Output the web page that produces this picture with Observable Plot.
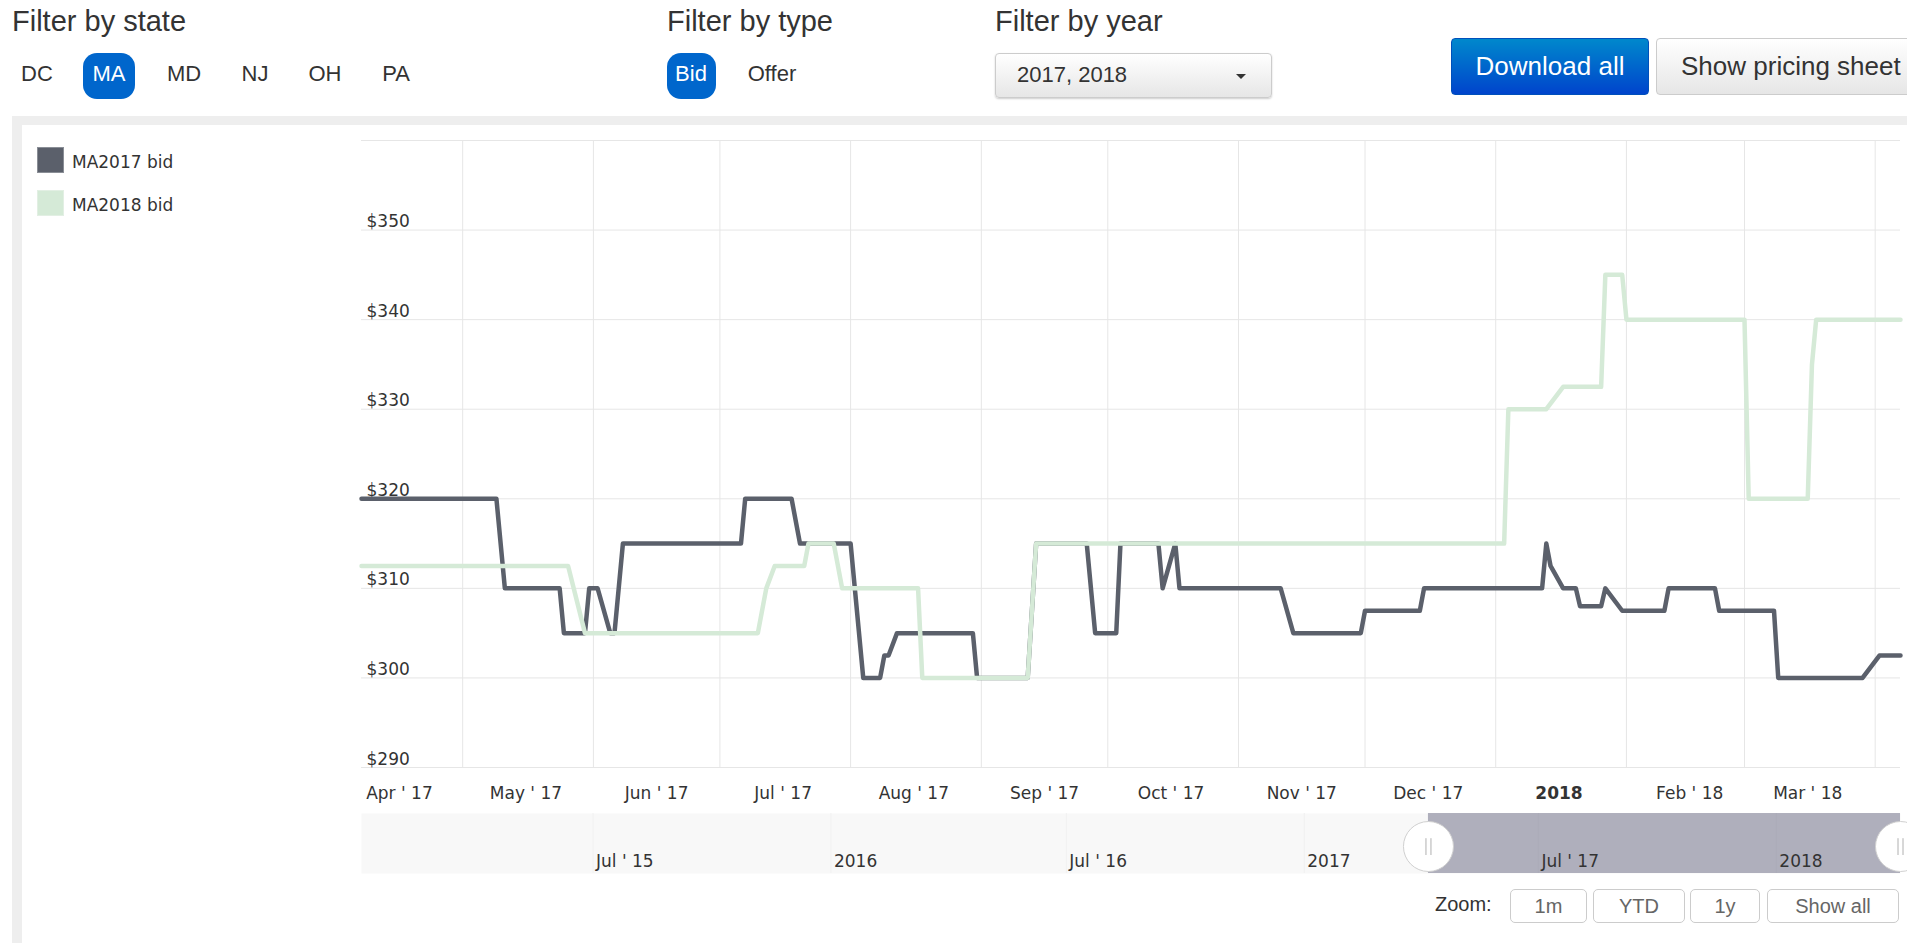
<!DOCTYPE html>
<html>
<head>
<meta charset="utf-8">
<script src="https://cdn.jsdelivr.net/npm/d3@7"></script>
<script src="https://cdn.jsdelivr.net/npm/@observablehq/plot@0.6"></script>
<style>
  html, body { margin: 0; padding: 0; }
  body { width: 1907px; height: 943px; overflow: hidden; background: #fff; position: relative;
         font-family: "Liberation Sans", Arial, sans-serif; color: #333; }
  .abs { position: absolute; white-space: nowrap; }
  .hdr { font-size: 29px; line-height: 29px; top: 7px; }
  .st { font-size: 22px; line-height: 22px; top: 63px; width: 60px; text-align: center; }
  .pill { background: #0066cc; border-radius: 14px; top: 53px; height: 46px; }
  .pilltxt { color: #fff; }
  .panel { left: 12px; top: 116px; right: 0; bottom: 0; background: #eeeeee; }
  .inner { left: 22px; top: 125px; right: 0; bottom: 0; background: #fff; }
  .sw { width: 27px; height: 26px; left: 37px; box-sizing: border-box; }
  .lg { left: 72px; font-family: "DejaVu Sans", Verdana, sans-serif; font-size: 17px; line-height: 17px; color: #333; }
  .zbtn { top: 889px; height: 34px; box-sizing: border-box; border: 1px solid #cccccc; border-radius: 5px;
          background: #fff; color: #666; font-size: 20px; line-height: 32px; text-align: center; }
</style>
</head>
<body>
<div class="abs panel"></div>
<div class="abs inner"></div>

<div class="abs hdr" style="left:12px">Filter by state</div>
<div class="abs hdr" style="left:667px">Filter by type</div>
<div class="abs hdr" style="left:995px">Filter by year</div>

<div id="states"></div>

<div class="abs pill" style="left:667px;width:49px"></div>
<div class="abs st pilltxt" style="left:661px">Bid</div>
<div class="abs st" style="left:742px">Offer</div>

<div class="abs" style="left:995px;top:53px;width:277px;height:45px;box-sizing:border-box;border:1px solid #cccccc;border-radius:4px;background:linear-gradient(#ffffff,#e6e6e6);box-shadow:0 1px 2px rgba(0,0,0,0.2)"></div>
<div class="abs" style="left:1017px;top:64px;font-size:22px;line-height:22px">2017, 2018</div>
<div class="abs" style="left:1236px;top:74px;width:0;height:0;border-left:5px solid transparent;border-right:5px solid transparent;border-top:5px solid #333"></div>

<div class="abs" style="left:1451px;top:38px;width:198px;height:57px;box-sizing:border-box;border:1px solid #0050bb;border-radius:4px;background:linear-gradient(#0088cc,#0044cc);color:#fff;font-size:26px;line-height:55px;text-align:center">Download all</div>
<div class="abs" style="left:1656px;top:38px;width:280px;height:57px;box-sizing:border-box;border:1px solid #cccccc;border-radius:4px;background:linear-gradient(#ffffff,#e6e6e6);color:#333;font-size:26px;line-height:55px;padding-left:24px">Show pricing sheet</div>

<div id="legend"></div>

<div id="main" class="abs" style="left:341px;top:120px"></div>
<div id="nav" class="abs" style="left:341px;top:805px"></div>

<div class="abs" style="left:1435px;top:894px;font-size:20px;line-height:20px;color:#333">Zoom:</div>
<div class="abs zbtn" style="left:1510px;width:77px">1m</div>
<div class="abs zbtn" style="left:1593px;width:92px">YTD</div>
<div class="abs zbtn" style="left:1690px;width:70px">1y</div>
<div class="abs zbtn" style="left:1767px;width:132px">Show all</div>

<script>
// ---------------- data ----------------
const states = ["DC", "MA", "MD", "NJ", "OH", "PA"];
const seriesNames = ["MA2017 bid", "MA2018 bid"];

const dates2017 = [
  "2017-04-07","2017-05-09","2017-05-11","2017-05-24","2017-05-25","2017-05-30","2017-05-31","2017-06-02",
  "2017-06-05","2017-06-06","2017-06-08","2017-07-06","2017-07-07","2017-07-18","2017-07-20","2017-08-01",
  "2017-08-04","2017-08-08","2017-08-09","2017-08-10","2017-08-12","2017-08-30","2017-08-31","2017-09-12",
  "2017-09-14","2017-09-26","2017-09-28","2017-10-03","2017-10-04","2017-10-13","2017-10-14","2017-10-17",
  "2017-10-18","2017-11-11","2017-11-14","2017-11-30","2017-12-01","2017-12-14","2017-12-15","2018-01-12",
  "2018-01-13","2018-01-14","2018-01-17","2018-01-20","2018-01-21","2018-01-26","2018-01-27","2018-01-31",
  "2018-02-10","2018-02-11","2018-02-22","2018-02-23","2018-03-08","2018-03-09","2018-03-29","2018-04-02",
  "2018-04-07"
];
const bid2017 = [
  320, 320, 310, 310, 305, 305, 310, 310,
  305, 305, 315, 315, 320, 320, 315, 315,
  300, 300, 302.5, 302.5, 305, 305, 300, 300,
  315, 315, 305, 305, 315, 315, 310, 315,
  310, 310, 305, 305, 307.5, 307.5, 310, 310,
  315, 312.5, 310, 310, 308, 308, 310, 307.5,
  307.5, 310, 310, 307.5, 307.5, 300, 300, 302.5,
  302.5
];

const dates2018 = [
  "2017-04-07","2017-05-26","2017-05-30","2017-07-10","2017-07-12","2017-07-14","2017-07-21","2017-07-22",
  "2017-07-28","2017-07-30","2017-08-17","2017-08-18","2017-09-12","2017-09-14","2018-01-03","2018-01-04",
  "2018-01-13","2018-01-17","2018-01-26","2018-01-27","2018-01-31","2018-02-01","2018-03-01","2018-03-02",
  "2018-03-16","2018-03-17","2018-03-18","2018-04-07"
];
const bid2018 = [
  312.5, 312.5, 305, 305, 310, 312.5, 312.5, 315,
  315, 310, 310, 300, 300, 315, 315, 330,
  330, 332.5, 332.5, 345, 345, 340, 340, 320,
  320, 335, 340, 340
];

const yTicks = [290, 300, 310, 320, 330, 340, 350];
const yGrid = [290, 300, 310, 320, 330, 340, 350, 360];
const gridMonths = ["2017-05-01","2017-06-01","2017-07-01","2017-08-01","2017-09-01","2017-10-01",
                    "2017-11-01","2017-12-01","2018-01-01","2018-02-01","2018-03-01","2018-04-01"];
const monthTicks = ["2017-04-16","2017-05-16","2017-06-16","2017-07-16","2017-08-16","2017-09-16",
                    "2017-10-16","2017-11-16","2017-12-16","2018-01-16","2018-02-16","2018-03-16"];
const monthLabels = ["Apr ' 17","May ' 17","Jun ' 17","Jul ' 17","Aug ' 17","Sep ' 17",
                     "Oct ' 17","Nov ' 17","Dec ' 17","2018","Feb ' 18","Mar ' 18"];
const boldLabels = ["2018"];
const xDomain = ["2017-04-07", "2018-04-07"];

const navDomain = ["2015-01-03", "2018-04-07"];
const navSelection = ["2017-04-07", "2018-04-07"];
const navTicks = ["2015-07-01","2016-01-01","2016-07-01","2017-01-01","2017-07-01","2018-01-01"];
const navLabels = ["Jul ' 15","2016","Jul ' 16","2017","Jul ' 17","2018"];

// ---------------- build ----------------
const P = s => new Date(s + "T00:00:00Z");
const s2017 = dates2017.map((d, i) => ({date: P(d), value: bid2017[i], series: seriesNames[0]}));
const s2018 = dates2018.map((d, i) => ({date: P(d), value: bid2018[i], series: seriesNames[1]}));
const colors = ["#5b606b", "#d5ead7"];

// header states
const stateCenters = [37, 109, 184, 255, 325, 396];
const stDiv = document.getElementById("states");
states.forEach((s, i) => {
  if (s === "MA") {
    const p = document.createElement("div");
    p.className = "abs pill";
    p.style.left = "83px"; p.style.width = "52px";
    stDiv.appendChild(p);
  }
  const t = document.createElement("div");
  t.className = "abs st" + (s === "MA" ? " pilltxt" : "");
  t.style.left = (stateCenters[i] - 30) + "px";
  t.textContent = s;
  stDiv.appendChild(t);
});

// legend
const lg = document.getElementById("legend");
seriesNames.forEach((n, i) => {
  const sw = document.createElement("div");
  sw.className = "abs sw";
  sw.style.top = (147 + i * 43) + "px";
  sw.style.background = colors[i];
  sw.style.border = "1px solid " + (i === 0 ? "#8a8e96" : "#e2efe3");
  lg.appendChild(sw);
  const t = document.createElement("div");
  t.className = "abs lg";
  t.style.top = (154 + i * 43) + "px";
  t.textContent = n;
  lg.appendChild(t);
});

const labelByTime = new Map(monthTicks.map((d, i) => [+P(d), monthLabels[i]]));
const normalTicks = monthTicks.filter((d, i) => !boldLabels.includes(monthLabels[i])).map(P);
const boldTicks = monthTicks.filter((d, i) => boldLabels.includes(monthLabels[i])).map(P);

const chartStyle = {fontFamily: "'DejaVu Sans', Verdana, sans-serif", fontSize: "17px", color: "#333", background: "transparent", overflow: "visible"};

const main = Plot.plot({
  width: 1566, height: 685,
  marginLeft: 20, marginRight: 7, marginTop: 20, marginBottom: 38,
  style: chartStyle,
  x: {type: "utc", domain: xDomain.map(P)},
  y: {domain: [290, 360]},
  marks: [
    Plot.gridY(yGrid, {stroke: "#e6e6e6", strokeOpacity: 1}),
    Plot.gridX(gridMonths.map(P), {stroke: "#e6e6e6", strokeOpacity: 1}),
    Plot.axisY(yTicks, {anchor: "left", tickSize: 0, tickPadding: 0, textAnchor: "start", dx: 5,
                        lineAnchor: "bottom", dy: -3, tickFormat: d => "$" + d, label: null, fontSize: 17}),
    Plot.axisX(normalTicks, {tickSize: 0, tickPadding: 19, tickFormat: d => labelByTime.get(+d), label: null, fontSize: 17}),
    Plot.axisX(boldTicks, {tickSize: 0, tickPadding: 19, tickFormat: d => labelByTime.get(+d), label: null, fontSize: 17, fontWeight: "bold"}),
    Plot.line(s2017, {x: "date", y: "value", stroke: colors[0], strokeWidth: 4.5, strokeLinejoin: "round"}),
    Plot.line(s2018, {x: "date", y: "value", stroke: colors[1], strokeWidth: 4.5, strokeLinejoin: "round"})
  ]
});
document.getElementById("main").appendChild(main);

const navLabelByTime = new Map(navTicks.map((d, i) => [+P(d), navLabels[i]]));
const sel = [{start: P(navSelection[0]), end: P(navSelection[1])}];
const handles = navSelection.map(P);

const nav = Plot.plot({
  width: 1566, height: 80,
  marginLeft: 20, marginRight: 7, marginTop: 8, marginBottom: 12,
  style: chartStyle,
  x: {type: "utc", domain: navDomain.map(P), axis: null},
  y: {domain: [0, 1], axis: null},
  marks: [
    Plot.frame({fill: "#f8f8f8", stroke: null}),
    Plot.gridX(navTicks.map(P), {stroke: "#f1f1f1", strokeOpacity: 1}),
    Plot.rect(sel, {x1: "start", x2: "end", y1: 0, y2: 1, fill: "#666680", fillOpacity: 0.5}),
    Plot.axisX(navTicks.map(P), {anchor: "bottom", tickSize: 0, tickPadding: 0, textAnchor: "start", dx: 3,
                                 lineAnchor: "bottom", dy: -7, tickFormat: d => navLabelByTime.get(+d), label: null, fontSize: 17}),
    Plot.dot(handles, {x: d => d, y: 0.45, r: 25, fill: "#ffffff", stroke: "#d0d0d0", strokeWidth: 1}),
    Plot.ruleX(handles, {x: d => d, y1: 0.3, y2: 0.58, dx: -2.5, stroke: "#b0b0b0", strokeWidth: 1}),
    Plot.ruleX(handles, {x: d => d, y1: 0.3, y2: 0.58, dx: 2.5, stroke: "#b0b0b0", strokeWidth: 1})
  ]
});
document.getElementById("nav").appendChild(nav);
</script>
</body>
</html>
